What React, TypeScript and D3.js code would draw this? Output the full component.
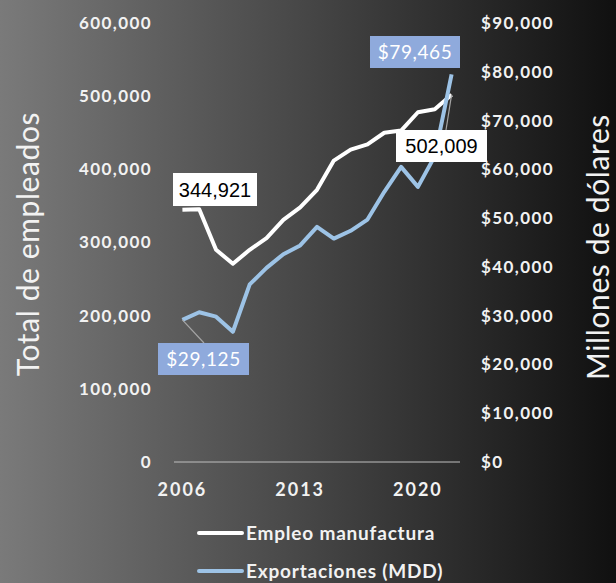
import React, { useEffect, useRef } from 'react';
import * as d3 from 'd3';

const years = d3.range(2006, 2023).map(String);
const empleo = [344921, 345500, 290000, 271000, 290000, 306000, 331000, 348000, 372000, 412000, 427000, 434000, 450000, 453000, 478000, 482000, 502009];
const exportaciones = [29125, 30700, 29800, 26700, 36400, 39800, 42600, 44400, 48200, 45800, 47400, 49700, 55400, 60500, 56400, 62700, 79465];
const leftTicks = [0, 100000, 200000, 300000, 400000, 500000, 600000];
const rightTicks = [0, 10000, 20000, 30000, 40000, 50000, 60000, 70000, 80000, 90000];
const xTickYears = ['2006', '2013', '2020'];

const W = 616;
const H = 583;
const FONT = 'Lato, "Noto Sans", sans-serif';
const BLUE = '#9dc3e6';
const BOX_BLUE = '#8faadc';

export default function App() {
  const svgRef = useRef<SVGSVGElement>(null);

  useEffect(() => {
    if (!svgRef.current) return;
    const svg = d3.select(svgRef.current);
    svg.selectAll('*').remove();

    const plotTop = 23;
    const plotBottom = 462;

    // background gradient
    const defs = svg.append('defs');
    const grad = defs.append('linearGradient').attr('id', 'bg').attr('x1', 0).attr('x2', 1).attr('y1', 0).attr('y2', 0);
    grad.append('stop').attr('offset', '0%').attr('stop-color', '#7a7a7a');
    grad.append('stop').attr('offset', '50%').attr('stop-color', '#464646');
    grad.append('stop').attr('offset', '100%').attr('stop-color', '#101010');
    svg.append('rect').attr('width', W).attr('height', H).attr('fill', 'url(#bg)');

    const x = d3.scalePoint<string>().domain(years).range([174, 460]).padding(0.5);
    const yL = d3.scaleLinear().domain([0, 600000]).range([plotBottom, plotTop]);
    const yR = d3.scaleLinear().domain([0, 90000]).range([plotBottom, plotTop]);

    // baseline
    svg.append('line')
      .attr('x1', 174).attr('x2', 460)
      .attr('y1', plotBottom).attr('y2', plotBottom)
      .attr('stroke', '#bfbfbf').attr('stroke-width', 1);

    const tickStyle = (sel: any) => sel
      .attr('fill', '#f2f2f2')
      .style('font-family', FONT)
      .style('font-size', '17px')
      .style('font-weight', 700)
      .style('letter-spacing', '1.4px');

    // left axis labels
    const fmt = d3.format(',');
    svg.append('g')
      .selectAll('text')
      .data(leftTicks)
      .join('text')
      .attr('x', 152)
      .attr('y', d => yL(d))
      .attr('dy', '0.35em')
      .attr('text-anchor', 'end')
      .call(tickStyle)
      .text(d => fmt(d));

    // right axis labels
    svg.append('g')
      .selectAll('text')
      .data(rightTicks)
      .join('text')
      .attr('x', 481)
      .attr('y', d => yR(d))
      .attr('dy', '0.35em')
      .attr('text-anchor', 'start')
      .call(tickStyle)
      .text(d => '$' + fmt(d));

    // x labels
    svg.append('g')
      .selectAll('text')
      .data(xTickYears)
      .join('text')
      .attr('x', d => x(d)!)
      .attr('y', 490)
      .attr('dy', '0.35em')
      .attr('text-anchor', 'middle')
      .call(tickStyle)
      .style('font-size', '18px')
      .style('letter-spacing', '2px')
      .text(d => d);

    // axis titles
    svg.append('text')
      .attr('transform', 'translate(28,244) rotate(-90)')
      .attr('dy', '0.35em')
      .attr('text-anchor', 'middle')
      .attr('fill', '#f2f2f2')
      .style('font-family', FONT)
      .style('font-size', '30px')
      .style('font-weight', 400)
      .style('letter-spacing', '0.6px')
      .text('Total de empleados');

    svg.append('text')
      .attr('transform', 'translate(598,247) rotate(-90)')
      .attr('dy', '0.35em')
      .attr('text-anchor', 'middle')
      .attr('fill', '#f2f2f2')
      .style('font-family', FONT)
      .style('font-size', '30px')
      .style('font-weight', 400)
      .style('letter-spacing', '0.6px')
      .text('Millones de dólares');

    // lines
    const lineL = d3.line<number>().x((_, i) => x(years[i])!).y(d => yL(d));
    const lineR = d3.line<number>().x((_, i) => x(years[i])!).y(d => yR(d));

    svg.append('path')
      .datum(empleo)
      .attr('d', lineL)
      .attr('fill', 'none')
      .attr('stroke', '#ffffff')
      .attr('stroke-width', 4)
      .attr('stroke-linejoin', 'round');

    svg.append('path')
      .datum(exportaciones)
      .attr('d', lineR)
      .attr('fill', 'none')
      .attr('stroke', BLUE)
      .attr('stroke-width', 4)
      .attr('stroke-linejoin', 'round');

    // leader lines
    const last = years.length - 1;
    svg.append('line')
      .attr('x1', x(years[0])!).attr('y1', yR(exportaciones[0]))
      .attr('x2', 204).attr('y2', 343)
      .attr('stroke', '#a6a6a6').attr('stroke-width', 1.2);
    svg.append('line')
      .attr('x1', x(years[last])!).attr('y1', yL(empleo[last]))
      .attr('x2', 446).attr('y2', 130)
      .attr('stroke', '#a6a6a6').attr('stroke-width', 1.2);

    // data labels
    const labels = [
      { text: fmt(empleo[0]), x: 173, y: 173, w: 84, h: 33, fill: '#ffffff', color: '#000000', font: '"Liberation Sans", Arial, sans-serif' },
      { text: fmt(empleo[last]), x: 396, y: 130, w: 91, h: 32, fill: '#ffffff', color: '#000000', font: '"Liberation Sans", Arial, sans-serif' },
      { text: '$' + fmt(exportaciones[last]), x: 370, y: 36, w: 90, h: 32, fill: BOX_BLUE, color: '#ffffff', font: FONT },
      { text: '$' + fmt(exportaciones[0]), x: 158, y: 343, w: 91, h: 32, fill: BOX_BLUE, color: '#ffffff', font: FONT },
    ];
    const lg = svg.append('g').selectAll('g').data(labels).join('g');
    lg.append('rect')
      .attr('x', d => d.x).attr('y', d => d.y)
      .attr('width', d => d.w).attr('height', d => d.h)
      .attr('fill', d => d.fill);
    lg.append('text')
      .attr('x', d => d.x + d.w / 2)
      .attr('y', d => d.y + d.h / 2)
      .attr('dy', '0.36em')
      .attr('text-anchor', 'middle')
      .attr('fill', d => d.color)
      .style('font-family', d => d.font)
      .style('font-size', d => (d.color === '#000000' ? '20px' : '19px'))
      .style('letter-spacing', d => (d.color === '#000000' ? '0px' : '0.6px'))
      .style('font-weight', d => (d.color === '#000000' ? 500 : 400))
      .text(d => d.text);

    // legend
    const legend = [
      { name: 'Empleo manufactura', color: '#ffffff', y: 533 },
      { name: 'Exportaciones (MDD)', color: BLUE, y: 571 },
    ];
    const leg = svg.append('g').selectAll('g').data(legend).join('g');
    leg.append('line')
      .attr('x1', 199).attr('x2', 242)
      .attr('y1', d => d.y).attr('y2', d => d.y)
      .attr('stroke', d => d.color)
      .attr('stroke-width', 4)
      .attr('stroke-linecap', 'round');
    leg.append('text')
      .attr('x', 246)
      .attr('y', d => d.y)
      .attr('dy', '0.35em')
      .attr('fill', '#f2f2f2')
      .style('font-family', FONT)
      .style('font-size', '19px')
      .style('font-weight', 700)
      .style('letter-spacing', '0.8px')
      .text(d => d.name);
  }, []);

  return (
    <svg
      ref={svgRef}
      width={W}
      height={H}
      style={{ position: 'absolute', left: 0, top: 0, display: 'block' }}
    />
  );
}
